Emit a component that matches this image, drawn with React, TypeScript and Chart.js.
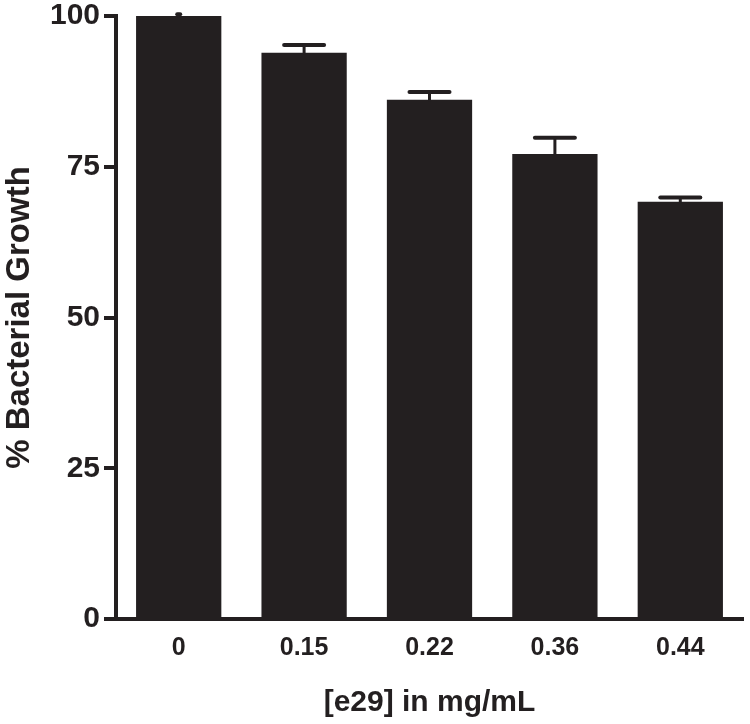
import React, { useEffect, useRef } from "react";
import { Chart, registerables } from "chart.js";

Chart.register(...registerables);

const concentrations = ["0", "0.15", "0.22", "0.36", "0.44"];
const growthMean = [100, 93.9, 86.1, 77.1, 69.2];
const growthError = [0.3, 1.3, 1.3, 2.7, 0.7];
const yTicks = [0, 25, 50, 75, 100];

const INK = "#231f20";
const FONT = "'Liberation Sans', Arial, Helvetica, sans-serif";

const errorBarPlugin = {
  id: "errorBars",
  afterDatasetsDraw(chart: any) {
    const { ctx } = chart;
    const y = chart.scales.y;
    const meta = chart.getDatasetMeta(0);
    ctx.save();
    ctx.strokeStyle = INK;
    ctx.lineCap = "round";
    meta.data.forEach((bar: any, i: number) => {
      const err = growthError[i];
      if (!err) return;
      const x = bar.x;
      const yTop = y.getPixelForValue(growthMean[i]);
      const yErr = y.getPixelForValue(growthMean[i] + err);
      ctx.lineWidth = 3;
      ctx.beginPath();
      ctx.moveTo(x, yTop);
      ctx.lineTo(x, yErr);
      ctx.stroke();
      const half = err >= 0.5 ? 20 : 1.5;
      ctx.lineWidth = 4;
      ctx.beginPath();
      ctx.moveTo(x - half, yErr);
      ctx.lineTo(x + half, yErr);
      ctx.stroke();
    });
    ctx.restore();
  },
};

export default function App() {
  const canvasRef = useRef<HTMLCanvasElement | null>(null);

  useEffect(() => {
    if (!canvasRef.current) return;
    const chart = new Chart(canvasRef.current, {
      type: "bar",
      data: {
        labels: concentrations,
        datasets: [
          {
            data: growthMean,
            backgroundColor: INK,
            borderWidth: 0,
            barPercentage: 0.68,
            categoryPercentage: 1,
          },
        ],
      },
      options: {
        animation: false,
        responsive: false,
        maintainAspectRatio: false,
        layout: { padding: { left: 0, right: 7, top: 16, bottom: 0 } },
        plugins: {
          legend: { display: false },
          tooltip: { enabled: false },
        },
        scales: {
          x: {
            grid: { display: false, drawTicks: false },
            border: { display: true, color: INK, width: 4 },
            ticks: {
              color: INK,
              padding: 14,
              font: { family: FONT, size: 25, weight: "bold" },
            },
            title: {
              display: true,
              text: "[e29] in mg/mL",
              color: INK,
              padding: { top: 0, bottom: 3 },
              font: { family: FONT, size: 30, weight: "bold" },
            },
            afterFit(scale: any) {
              scale.height = 105;
              scale.paddingLeft = 0;
              scale.paddingRight = 0;
            },
          },
          y: {
            min: 0,
            max: 100,
            afterBuildTicks(scale: any) {
              scale.ticks = yTicks.map((v) => ({ value: v }));
            },
            grid: {
              drawOnChartArea: false,
              drawTicks: true,
              tickLength: 12,
              color: INK,
              lineWidth: 4,
            },
            border: { display: true, color: INK, width: 4 },
            ticks: {
              color: INK,
              padding: 4,
              font: { family: FONT, size: 30, weight: "bold" },
            },
            title: {
              display: true,
              text: "% Bacterial Growth",
              color: INK,
              padding: 0,
              font: { family: FONT, size: 33, weight: "bold" },
            },
            afterFit(scale: any) {
              scale.width = 116;
              scale.paddingTop = 0;
              scale.paddingBottom = 0;
            },
          },
        },
      },
      plugins: [errorBarPlugin],
    });
    return () => chart.destroy();
  }, []);

  return (
    <div style={{ position: "absolute", left: 0, top: 0, width: 750, height: 724, background: "#fff" }}>
      <canvas ref={canvasRef} width={750} height={724} />
    </div>
  );
}
